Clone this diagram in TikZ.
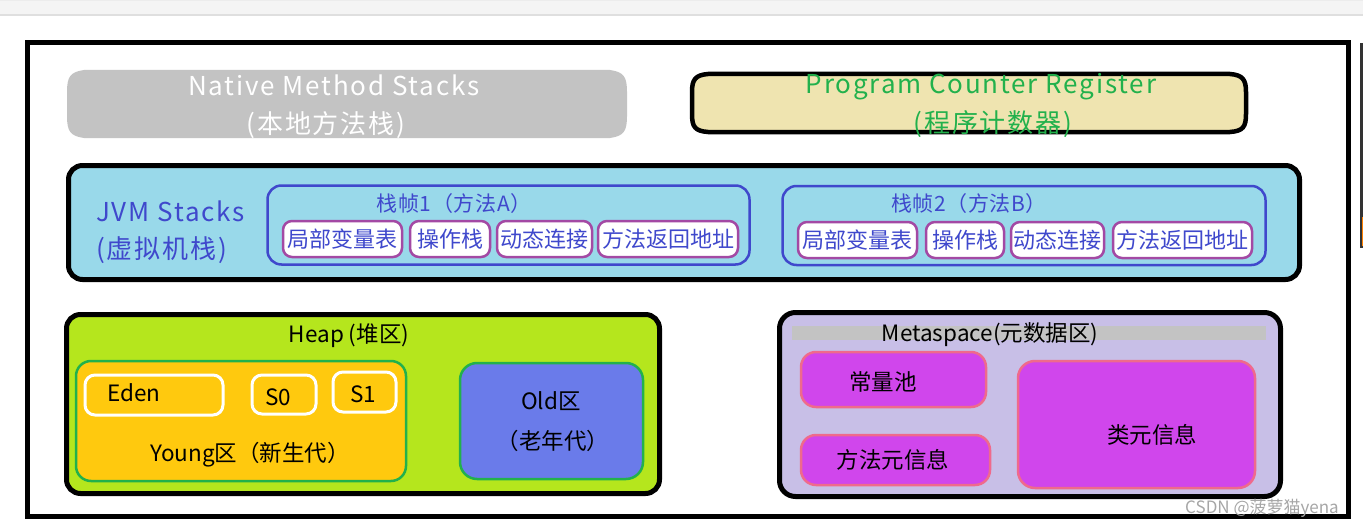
\documentclass[tikz,border=0pt]{standalone}
\usepackage{fontspec}
\setmainfont{Noto Sans CJK SC}
\newfontfamily\spacedfont[LetterSpace=7]{Noto Sans CJK SC}
\newfontfamily\lightspaced[LetterSpace=3]{Noto Sans CJK SC}
\definecolor{nativegray}{HTML}{C3C3C3}
\definecolor{pcfill}{HTML}{EFE4B0}
\definecolor{pcgreen}{HTML}{22B14C}
\definecolor{jvmfill}{HTML}{99D9EA}
\definecolor{blueT}{HTML}{3F48CC}
\definecolor{framepurple}{HTML}{A349A4}
\definecolor{heapfill}{HTML}{B5E61D}
\definecolor{youngfill}{HTML}{FFC90E}
\definecolor{oldfill}{HTML}{6A7BEA}
\definecolor{metafill}{HTML}{C8BFE7}
\definecolor{metabox}{HTML}{D046EC}
\definecolor{pinkline}{HTML}{EF6A8C}
\definecolor{stripgray}{HTML}{F4F4F4}
\begin{document}
\begin{tikzpicture}[x=1pt,y=-1pt,
  txt/.style={inner sep=0pt, font=\fontsize{22.5}{26}\selectfont},
  bigtxt/.style={inner sep=0pt, font=\spacedfont\fontsize{26}{30}\selectfont},
  titletxt/.style={inner sep=0pt, text=blueT, font=\lightspaced\fontsize{21}{24}\selectfont},
  region/.style={draw=black, line width=5pt, rounded corners=14pt},
  framebox/.style={draw=blueT, line width=2.5pt, rounded corners=14pt, inner sep=0pt},
  slotbox/.style={draw=framepurple, fill=white, line width=2.5pt, rounded corners=9pt, inner sep=0pt, minimum height=36pt, text=blueT, font=\fontsize{22}{24}\selectfont},
  genbox/.style={draw=pcgreen, line width=2.5pt, rounded corners=15pt, inner sep=0pt},
  survbox/.style={draw=white, line width=3pt, rounded corners=10pt, inner sep=0pt},
  metaitem/.style={draw=pinkline, fill=metabox, line width=2.5pt, rounded corners=15pt, inner sep=0pt}
]
\useasboundingbox (0,0) rectangle (1363,527);
% browser strip and right edge
\fill[stripgray] (0,0) rectangle (1363,15);
\draw[gray!25, line width=1.2pt] (0,15) -- (1363,15);
\draw[gray!15, line width=1pt] (0,1) -- (1363,1);
\fill[black!80] (1359.5,43) rectangle (1363,248);
\fill[orange] (1361.5,217) rectangle (1363,246);
% outer frame
\draw[line width=5pt] (27,42.5) rectangle (1348.5,516.5);

% Native Method Stacks
\fill[nativegray] (84,70) -- (610,70) .. controls (624,72) and (627,77) .. (627,92) -- (627,116) .. controls (627,131) and (624,136) .. (610,138) -- (84,138) .. controls (70,136) and (67,131) .. (67,116) -- (67,92) .. controls (67,77) and (70,72) .. (84,70) -- cycle;
\node[bigtxt, text=white] (nms) at (334,85) {Native Method Stacks};
\node[bigtxt, text=white] (nmscn) at (326,125) {(本地方法栈)};

% Program Counter Register
\filldraw[fill=pcfill, draw=black, line width=4.5pt] (708,74) -- (1230,74) .. controls (1243,75) and (1246,80) .. (1246,92) -- (1246,114) .. controls (1246,127) and (1243,131) .. (1230,132) -- (708,132) .. controls (695,131) and (692,127) .. (692,114) -- (692,92) .. controls (692,80) and (695,75) .. (708,74) -- cycle;
\node[bigtxt, text=pcgreen] (pcr) at (981,87) {Program Counter Register};
\node[bigtxt, text=pcgreen] (pcrcn) at (993,124) {(程序计数器)};

% JVM Stacks
\node[region, fill=jvmfill, minimum width=1231pt, minimum height=114pt, inner sep=0pt] (jvm) at (684,222.5) {};
\node[bigtxt, text=blueT, anchor=west] (jvmt) at (96,211) {JVM Stacks};
\node[bigtxt, text=blueT, anchor=west] (jvmcn) at (96,250) {(虚拟机栈)};

\node[framebox, minimum width=482pt, minimum height=79pt] (f1) at (508.5,225) {};
\node[titletxt] (f1t) at (454,204) {栈帧1（方法A）};
\node[slotbox, minimum width=119pt] (f1a) at (342.5,239) {局部变量表};
\node[slotbox, minimum width=80pt] (f1b) at (450,239) {操作栈};
\node[slotbox, minimum width=95pt] (f1c) at (544.5,239) {动态连接};
\node[slotbox, minimum width=140pt] (f1d) at (668,239) {方法返回地址};

\node[framebox, minimum width=483pt, minimum height=79pt] (f2) at (1024,225.5) {};
\node[titletxt] (f2t) at (969,204) {栈帧2（方法B）};
\node[slotbox, minimum width=119pt] (f2a) at (857.5,240) {局部变量表};
\node[slotbox, minimum width=78pt] (f2b) at (965,240) {操作栈};
\node[slotbox, minimum width=93pt] (f2c) at (1057.5,240) {动态连接};
\node[slotbox, minimum width=139pt] (f2d) at (1182.5,240) {方法返回地址};

% Heap
\node[region, fill=heapfill, minimum width=593pt, minimum height=179pt, inner sep=0pt] (heap) at (363,404) {};
\node[txt] (heapt) at (349,336) {Heap (堆区)};
\node[genbox, fill=youngfill, minimum width=330pt, minimum height=120pt] (young) at (241,421) {};
\node[survbox, minimum width=138pt, minimum height=40pt] (eden) at (154,395) {};
\node[txt, anchor=west] (edent) at (107,393) {Eden};
\node[survbox, minimum width=64pt, minimum height=39pt] (s0) at (284,394.5) {};
\node[txt] (s0t) at (278,397) {S0};
\node[survbox, minimum width=63pt, minimum height=40pt] (s1) at (364.5,392) {};
\node[txt] (s1t) at (363,394) {S1};
\node[txt] (youngt) at (250,455) {Young区（新生代）};
\node[genbox, fill=oldfill, minimum width=183pt, minimum height=116pt, rounded corners=17pt] (old) at (551.5,421) {};
\node[txt] (oldt) at (551,401) {Old区};
\node[txt] (oldcn) at (553,441) {（老年代）};

% Metaspace
\node[region, fill=metafill, minimum width=501pt, minimum height=184pt, inner sep=0pt, rounded corners=16pt] (meta) at (1030,404.5) {};
\fill[nativegray] (792,326) rectangle (1266,340);
\node[txt] (metat) at (990,335) {Metaspace(元数据区)};
\node[metaitem, minimum width=185pt, minimum height=55pt] (pool) at (893.5,379.5) {};
\node[txt] (poolt) at (883,382) {常量池};
\node[metaitem, minimum width=189pt, minimum height=50pt] (mmeta) at (895.5,460) {};
\node[txt] (mmetat) at (893,460) {方法元信息};
\node[metaitem, minimum width=237pt, minimum height=127pt, rounded corners=17pt] (cmeta) at (1136.5,424.5) {};
\node[txt] (cmetat) at (1152,435) {类元信息};

% watermark
\node[inner sep=0pt, text=gray!70, font=\fontsize{17}{19}\selectfont] (wm) at (1262,508) {CSDN @菠萝猫yena};
\end{tikzpicture}
\end{document}
